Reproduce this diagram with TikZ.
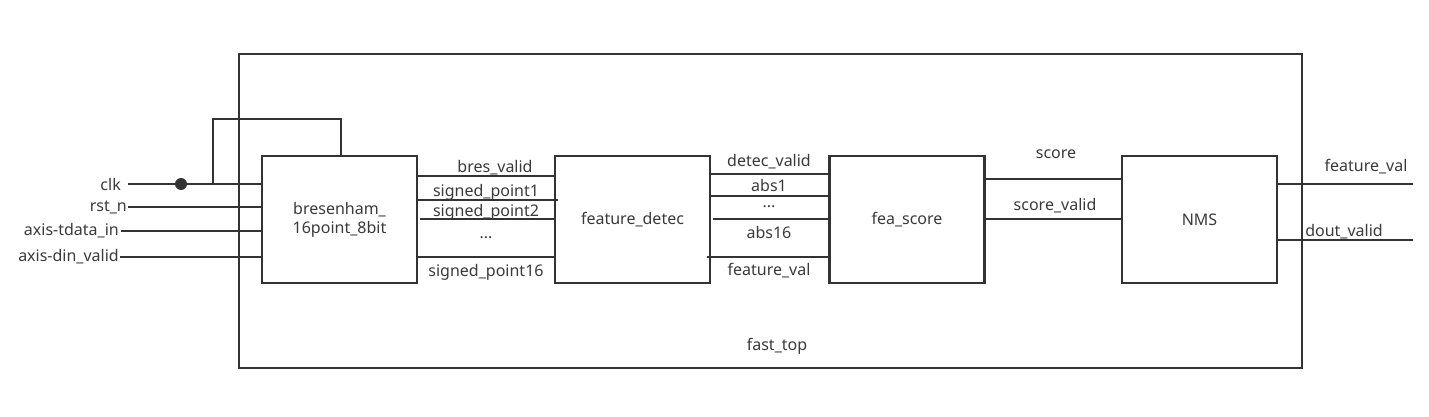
\documentclass[tikz,border=0pt]{standalone}
\usepackage{fontspec}
\setmainfont{Noto Sans}
\begin{document}
\begin{tikzpicture}[x=1pt,y=-1pt,
  wire/.style={line width=2.8pt,draw=wirec},
  block/.style={draw=wirec,line width=2.8pt,rectangle,inner sep=0pt,minimum width=155pt,minimum height=127pt,font=\fontsize{16}{19}\selectfont,text=txtc,align=center},
  lbl/.style={font=\fontsize{16}{19}\selectfont,text=txtc,inner sep=1pt,yshift=-2pt}]
\definecolor{wirec}{HTML}{333333}
\definecolor{txtc}{HTML}{3A3A3A}
\useasboundingbox (0,0) rectangle (1429,417);
% outer module
\node[draw=wirec,line width=2.8pt,rectangle,inner sep=0pt,minimum width=1063pt,minimum height=314pt] (top) at (770.5,211) {};
\node[lbl] (toplbl) at (777,344) {fast\_top};
% blocks
\node[block] (bres) at (339.5,219.5) {bresenham\_\\16point\_8bit};
\node[block] (fd) at (632.5,219.5) {feature\_detec};
\node[block] (fs) at (907,219.5) {fea\_score};
\node[block] (nms) at (1199.5,219.5) {NMS};
% inputs
\node[lbl,anchor=east] (clkL) at (122,182) {clk};
\node[lbl,anchor=east] (rstL) at (128,205) {rst\_n};
\node[lbl,anchor=east] (tdL) at (120,229) {axis-tdata\_in};
\node[lbl,anchor=east] (dvL) at (120,255) {axis-din\_valid};
\coordinate (clkS) at (128,184);
\coordinate (dot) at (181,184);
\coordinate (loopA) at (213,184);
\coordinate (loopB) at (213,119);
\coordinate (loopC) at (341,119);
\coordinate (rstS) at (128,207);
\coordinate (tdS) at (121,231);
\coordinate (dvS) at (120,257);
\draw[wire] (clkS) -- (bres.west |- clkS);
\fill[wirec] (dot) circle (6pt);
\draw[wire] (loopA) -- (loopB) -- (loopC) -- (loopC |- bres.north);
\draw[wire] (rstS) -- (bres.west |- rstS);
\draw[wire] (tdS) -- (bres.west |- tdS);
\draw[wire] (dvS) -- (bres.west |- dvS);
% bres -> feature_detec
\coordinate (b1) at (417,176);
\coordinate (b2) at (417,200);
\coordinate (b3) at (420,219);
\coordinate (b4) at (417,257);
\draw[wire] (b1) -- (fd.west |- b1);
\draw[wire] (b2) -- ([xshift=4pt]fd.west |- b2);
\draw[wire] (b3) -- (fd.west |- b3);
\draw[wire] (b4) -- (fd.west |- b4);
\node[lbl] (l1) at (495,166) {bres\_valid};
\node[lbl] (l2) at (486,190) {signed\_point1};
\node[lbl] (l3) at (486,210) {signed\_point2};
\node[lbl] (l4) at (486,236) {...};
\node[lbl] (l5) at (486,270) {signed\_point16};
% feature_detec -> fea_score
\coordinate (f1) at (710,174);
\coordinate (f2) at (710,196);
\coordinate (f3) at (713,219);
\coordinate (f4) at (707,257);
\draw[wire] (f1) -- (fs.west |- f1);
\draw[wire] (f2) -- (fs.west |- f2);
\draw[wire] (f3) -- (fs.west |- f3);
\draw[wire] (f4) -- (fs.west |- f4);
\node[lbl] (m1) at (769,160) {detec\_valid};
\node[lbl] (m2) at (769,183) {abs1};
\node[lbl] (m3) at (769,205) {...};
\node[lbl] (m4) at (769,230) {abs16};
\node[lbl] (m5) at (769,269) {feature\_val};
% fea_score -> NMS
\coordinate (s1) at (985,179);
\coordinate (s2) at (985,219);
\draw[wire] (s1) -- (nms.west |- s1);
\draw[wire] (s2) -- (nms.west |- s2);
\node[lbl] (n1) at (1056,152) {score};
\node[lbl] (n2) at (1055,204) {score\_valid};
% outputs
\coordinate (o1) at (1413,184);
\coordinate (o2) at (1413,240);
\draw[wire] (nms.east |- o1) -- (o1);
\draw[wire] (nms.east |- o2) -- (o2);
\node[lbl] (p1) at (1366,165) {feature\_val};
\node[lbl] (p2) at (1344,230) {dout\_valid};
\end{tikzpicture}
\end{document}
